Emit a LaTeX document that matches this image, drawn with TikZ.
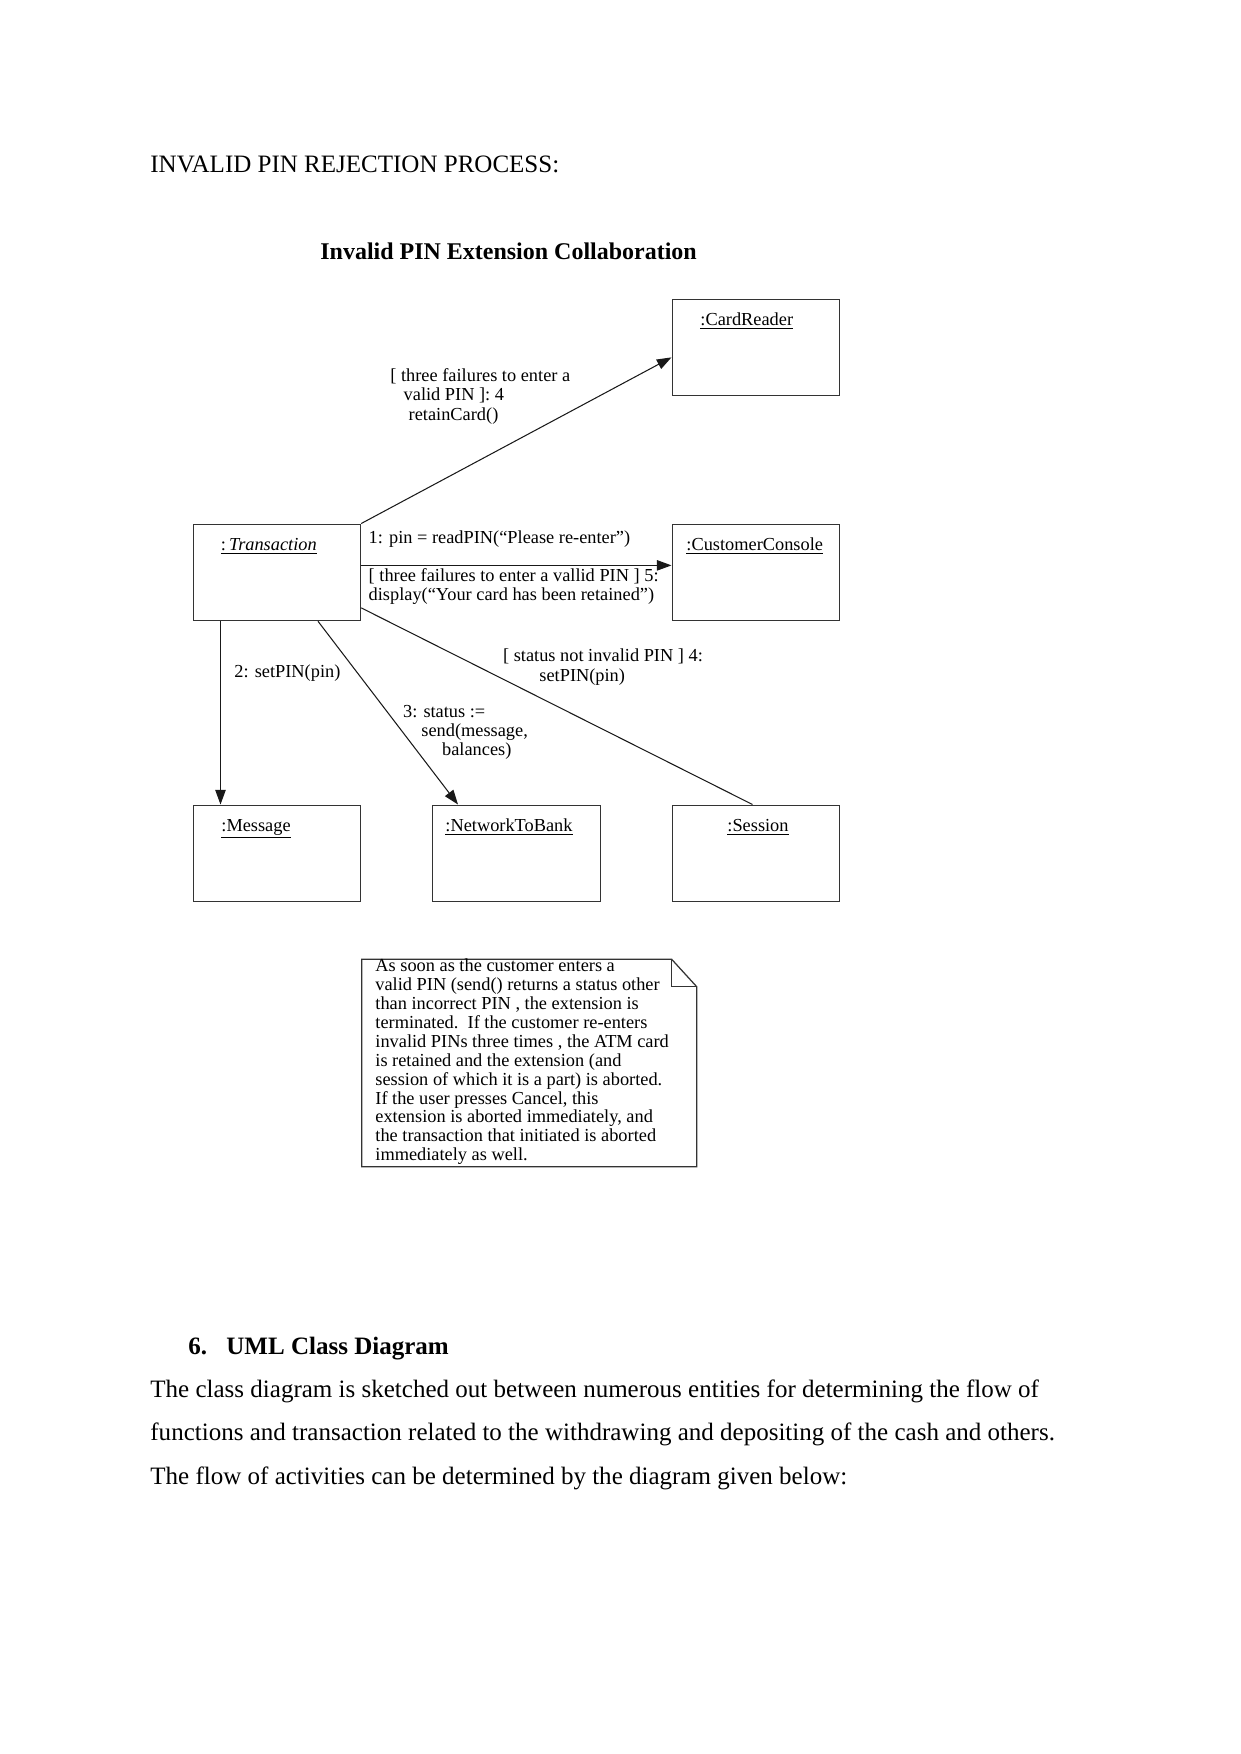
\documentclass[tikz,border=0pt]{standalone}
\usepackage{fontspec}
\setmainfont{Liberation Serif}
\usetikzlibrary{arrows.meta,calc}
\newcommand\pxu{0.479678pt}
\begin{document}
\begin{tikzpicture}[x=0.479678pt,y=-0.479678pt,
  box/.style={draw=black!80,line width=0.6pt,minimum width=167.5*\pxu,minimum height=96.5*\pxu,inner sep=0pt,anchor=north west},
  lbl/.style={anchor=base west,inner sep=0pt,font=\fontsize{8.8}{10}\selectfont},
  body/.style={anchor=base west,inner sep=0pt,font=\fontsize{12}{14}\selectfont},
  conn/.style={line width=0.5pt,black!90},
  arr/.style={conn,-{Triangle[length=7pt,width=5pt]}},
]
\useasboundingbox[fill=white] (0,0) rectangle (1241,1754);

% page heading
\node[body] (head) at (150,172.5) {INVALID PIN REJECTION PROCESS:};

% diagram title
\node[anchor=base west,inner sep=0pt,font=\fontsize{11.5}{13}\selectfont\bfseries] (title) at (320,259) {Invalid PIN Extension Collaboration};

% objects
\node[box] (cr)  at (671.5,298.5) {};
\node[box] (tr)  at (192.5,523.5) {};
\node[box] (cc)  at (671.5,523.5) {};
\node[box] (msg) at (192.5,804.5) {};
\node[box] (ntb) at (432,804.5) {};
\node[box] (ses) at (671.5,804.5) {};

\node[lbl] (crl)  at (700,325)   {\underline{:CardReader}};
\node[lbl] (trl)  at (220.5,550) {\underline{:\,\textit{Transaction}}};
\node[lbl] (ccl)  at (686,550)   {\underline{:CustomerConsole}};
\node[lbl] (msgl) at (221,831)   {\underline{:Message}};
\node[lbl] (ntbl) at (445,831)   {\underline{:NetworkToBank}};
\node[lbl] (sesl) at (727,831)   {\underline{:Session}};

% connectors
\draw[arr] (tr.north east) -- ($(cr.west)+(0,10)$);
\draw[arr] ($(tr.east)+(0,-7)$) -- ($(cc.west)+(0,-7)$);
\draw[arr] ($(tr.south west)+(28,0)$) -- ($(msg.north west)+(28,0)$);
\draw[arr] ($(tr.south west)+(125.5,0)$) -- ($(ntb.north west)+(26,0)$);
\draw[conn] ($(tr.east)+(0,35.5)$) -- ($(ses.north west)+(81,0)$);

% message labels
\node[lbl] (m4a) at (390,381)   {[ three failures to enter a};
\node[lbl] (m4b) at (403.3,400) {valid PIN ]: 4};
\node[lbl] (m4c) at (408.3,420) {retainCard()};

\node[lbl] (m1)  at (368.3,543)   {1: pin = readPIN(“Please re-enter”)};
\node[lbl] (m5a) at (368.3,581.7) {[ three failures to enter a vallid PIN ] 5:};
\node[lbl] (m5b) at (368.3,600.5) {display(“Your card has been retained”)};

\node[lbl] (m2)  at (234,677) {2: setPIN(pin)};

\node[lbl] (m3a) at (402.7,717.3) {3: status :=};
\node[lbl] (m3b) at (421,736.7)   {send(message,};
\node[lbl] (m3c) at (441.7,755.5) {balances)};

\node[lbl] (m6a) at (502.7,661.7) {[ status not invalid PIN ] 4:};
\node[lbl] (m6b) at (539,681.7)   {setPIN(pin)};

% note
\coordinate (nNW) at (361.7,959.3);
\coordinate (nFold) at (671.7,959.3);
\coordinate (nEar) at (696.7,986.7);
\coordinate (nSE) at (696.7,1166.7);
\draw[black!80,line width=0.6pt] (nNW) -- (nFold) -- (nEar) -- (nSE) -- (nNW |- nSE) -- cycle;
\draw[black!80,line width=0.6pt] (nFold) -- (nFold |- nEar) -- (nEar);
\foreach \t [count=\i] in {
  {As soon as the customer enters a},
  {valid PIN (send() returns a status other},
  {than incorrect PIN , the extension is},
  {terminated.\ \ If the customer re-enters},
  {invalid PINs three times , the ATM card},
  {is retained and the extension (and},
  {session of which it is a part) is aborted.},
  {If the user presses Cancel, this},
  {extension is aborted immediately, and},
  {the transaction that initiated is aborted},
  {immediately as well.}}
  \node[lbl] (note\i) at (375,{971.7+18.9*(\i-1)}) {\t};

% section text
\node[anchor=base west,inner sep=0pt,font=\fontsize{12}{14}\selectfont\bfseries] (secnum) at (188,1354) {6.};
\node[anchor=base west,inner sep=0pt,font=\fontsize{12}{14}\selectfont\bfseries] (sectitle) at (226,1354) {UML Class Diagram};
\node[body] (p1) at (150,1397)   {The class diagram is sketched out between numerous entities for determining the flow of};
\node[body] (p2) at (150,1440.5) {functions and transaction related to the withdrawing and depositing of the cash and others.};
\node[body] (p3) at (150,1484)   {The flow of activities can be determined by the diagram given below:};
\end{tikzpicture}
\end{document}
